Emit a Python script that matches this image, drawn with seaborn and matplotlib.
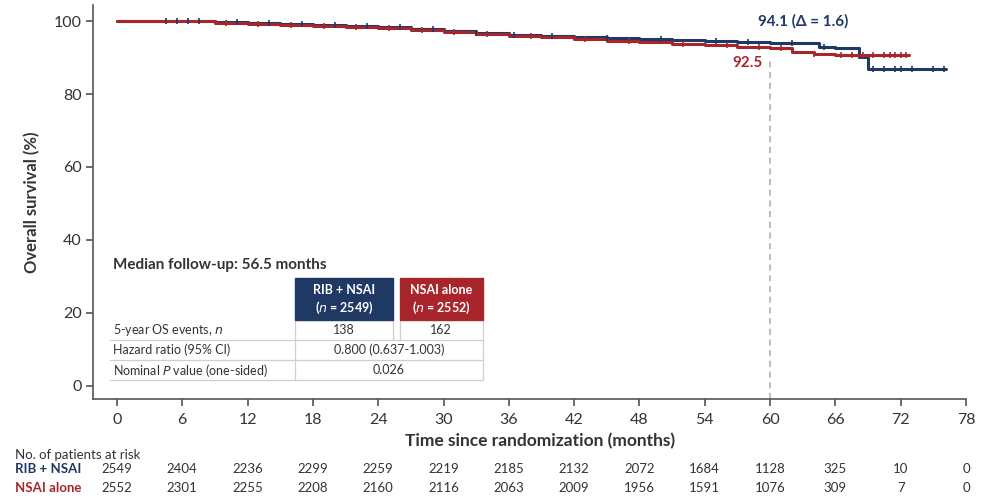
import numpy as np
import pandas as pd
import matplotlib
matplotlib.use("Agg")
import matplotlib.pyplot as plt
import matplotlib.transforms as mtransforms
from matplotlib.patches import Rectangle
import seaborn as sns

# Kaplan-Meier curves (month, OS %)
rib_time = [0, 4, 9, 12, 15, 18, 21, 24, 27, 30, 33, 36, 39, 42, 45, 48, 51, 54, 57, 60, 63, 64.5, 66,
            68.2, 69, 76.2]
rib_surv = [100, 100, 99.8, 99.4, 99.2, 98.9, 98.6, 98.3, 97.8, 97.3, 96.8, 96.3, 96.0, 95.6, 95.3, 95.0,
            94.7, 94.4, 94.3, 94.1, 93.9, 93.0, 92.6, 90.1, 86.8, 86.8]
nsai_time = [0, 4, 9, 12, 15, 18, 21, 24, 27, 30, 33, 36, 39, 42, 45, 48, 51, 54, 57, 60, 62, 64, 66, 72.8]
nsai_surv = [100, 99.9, 99.6, 99.2, 99.0, 98.7, 98.4, 98.0, 97.5, 97.0, 96.5, 96.0, 95.5, 95.1, 94.6, 94.2,
             93.8, 93.4, 93.0, 92.5, 91.6, 90.9, 90.7, 90.7]

# censor marks (months)
rib_censor = [4.5, 5.5, 6.5, 7.5, 11, 14, 17, 20, 23, 26, 29, 33, 36.5, 40, 45, 50, 55, 58, 62, 65,
              69.5, 70.5, 71.5, 72, 73, 75, 76]
nsai_censor = [10, 13, 16, 19, 22, 25, 28, 31, 34, 38, 43, 47, 52, 56, 59, 61, 64, 66.5, 67.5, 68.5,
               69.5, 70.5, 71, 71.5, 72, 72.5]

months = [0, 6, 12, 18, 24, 30, 36, 42, 48, 54, 60, 66, 72, 78]
at_risk_rib = [2549, 2404, 2236, 2299, 2259, 2219, 2185, 2132, 2072, 1684, 1128, 325, 10, 0]
at_risk_nsai = [2552, 2301, 2255, 2208, 2160, 2116, 2063, 2009, 1956, 1591, 1076, 309, 7, 0]

NAVY = "#1f3864"
RED = "#a8262b"
TXT = "#333333"

sns.set_theme(style="white")
plt.rcParams["font.family"] = ["Lato", "DejaVu Sans"]

W, H = 984, 498
fig = plt.figure(figsize=(W / 100, H / 100), dpi=100)
ax = fig.add_axes([93 / W, 1 - 399 / H, (966 - 93) / W, (399 - 5) / H])


def step_at(t, times, surv):
    i = np.searchsorted(times, t, side="right") - 1
    return surv[i]


curves = pd.concat([
    pd.DataFrame({"month": rib_time, "os": rib_surv, "arm": "RIB + NSAI"}),
    pd.DataFrame({"month": nsai_time, "os": nsai_surv, "arm": "NSAI alone"}),
])
sns.lineplot(data=curves, x="month", y="os", hue="arm", palette={"RIB + NSAI": NAVY, "NSAI alone": RED},
             drawstyle="steps-post", estimator=None, linewidth=2.2, legend=False, ax=ax)

for cens, times, surv, col in [(rib_censor, rib_time, rib_surv, NAVY), (nsai_censor, nsai_time, nsai_surv, RED)]:
    ys = [step_at(t, times, surv) for t in cens]
    ax.scatter(cens, ys, marker="|", s=25, color=col, linewidths=1.2, zorder=3)

# 5-year landmark
ax.plot([60, 60], [-3.6, 89.5], ls=(0, (4, 3)), color="#aaaaaa", lw=1.1, zorder=1)
ax.text(63, 100, "94.1 (Δ = 1.6)", color=NAVY, fontsize=11, fontweight="bold", ha="center", va="center")
ax.text(59.3, 88.6, "92.5", color=RED, fontsize=11, fontweight="bold", ha="right", va="center")

ax.set_xlim(-2.2, 78)
ax.set_ylim(-3.6, 104.4)
ax.set_xticks(months)
ax.set_yticks([0, 20, 40, 60, 80, 100])
ax.tick_params(axis="both", direction="out", length=5, width=1.1, color="#444444",
               labelsize=11.5, labelcolor=TXT, pad=3, bottom=True, left=True)
ax.tick_params(axis="x", pad=5)
for s in ["top", "right"]:
    ax.spines[s].set_visible(False)
for s in ["left", "bottom"]:
    ax.spines[s].set_color("#555555")
    ax.spines[s].set_linewidth(1.2)
ax.set_xlabel("")
ax.set_ylabel("Overall survival (%)", fontsize=12, fontweight="bold", color=TXT, labelpad=10)


def fx(x):
    return x / W


def fy(y):
    return 1 - y / H


fig.text(fx(540), fy(441), "Time since randomization (months)", fontsize=12.5, fontweight="bold",
         color=TXT, ha="center", va="center")

# summary table
fig.text(fx(113), fy(265), "Median follow-up: 56.5 months", fontsize=11, fontweight="bold",
         color=TXT, ha="left", va="center")
for x0, x1, col, lab, n in [(295, 393, NAVY, "RIB + NSAI", "2549"), (400, 483, RED, "NSAI alone", "2552")]:
    fig.patches.append(Rectangle((fx(x0), fy(320)), fx(x1 - x0), (320 - 278) / H, color=col,
                                 transform=fig.transFigure, zorder=2))
    fig.text(fx((x0 + x1) / 2), fy(290), lab, fontsize=9, fontweight="bold", color="white",
             ha="center", va="center", zorder=3)
    fig.text(fx((x0 + x1) / 2), fy(308), "($\\it{n}$ = " + n + ")", fontsize=9, fontweight="bold",
             color="white", ha="center", va="center", zorder=3)

grid_col = "#cfcfcf"
for y in [340, 360, 380]:
    fig.add_artist(plt.Line2D([fx(110), fx(483)], [fy(y), fy(y)], color=grid_col, lw=0.9))
for x, y0, y1 in [(295, 320, 380), (393, 320, 340), (400, 320, 340), (483, 320, 380)]:
    fig.add_artist(plt.Line2D([fx(x), fx(x)], [fy(y0), fy(y1)], color=grid_col, lw=0.9))

row_labels = ["5-year OS events, $\\it{n}$", "Hazard ratio (95% CI)", "Nominal $\\it{P}$ value (one-sided)"]
for lab, y in zip(row_labels, [330, 350, 370]):
    fig.text(fx(113), fy(y), lab, fontsize=9, color=TXT, ha="left", va="center")
fig.text(fx(344), fy(330), "138", fontsize=9, color=TXT, ha="center", va="center")
fig.text(fx(441), fy(330), "162", fontsize=9, color=TXT, ha="center", va="center")
fig.text(fx(389), fy(350), "0.800 (0.637-1.003)", fontsize=9, color=TXT, ha="center", va="center")
fig.text(fx(389), fy(370), "0.026", fontsize=9, color=TXT, ha="center", va="center")

# patients at risk
fig.text(fx(15), fy(455), "No. of patients at risk", fontsize=9.5, color=TXT, ha="left", va="center")
fig.text(fx(15), fy(469), "RIB + NSAI", fontsize=9.5, fontweight="bold", color=NAVY, ha="left", va="center")
fig.text(fx(15), fy(488), "NSAI alone", fontsize=9.5, fontweight="bold", color=RED, ha="left", va="center")
trans = mtransforms.blended_transform_factory(ax.transData, fig.transFigure)
for m, a, b in zip(months, at_risk_rib, at_risk_nsai):
    ax.text(m, fy(469), str(a), transform=trans, fontsize=9.5, color=TXT, ha="center", va="center",
            clip_on=False)
    ax.text(m, fy(488), str(b), transform=trans, fontsize=9.5, color=TXT, ha="center", va="center",
            clip_on=False)

fig.savefig("out.png", dpi=100)
